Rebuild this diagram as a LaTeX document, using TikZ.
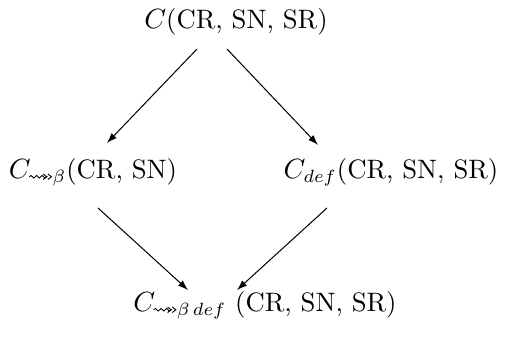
\documentclass[tikz,border=0pt]{standalone}
\usetikzlibrary{arrows.meta,calc,decorations.pathmorphing}
\newcommand{\sqarrow}{\mathrel{\tikz[baseline={(0pt,-2.2pt)},x=1pt,y=1pt]{\draw[line width=0.35pt,decorate,decoration={snake,amplitude=0.5pt,segment length=2.2pt,post length=2pt},-{Straight Barb[length=1.4pt,width=2.2pt]. Straight Barb[length=1.4pt,width=2.2pt]}] (0,0) -- (9,0);}}}
\tikzset{
  lbl/.style={inner sep=0pt, font=\fontsize{10.5}{12.5}\selectfont},
  arr/.style={line width=0.4pt, -{Latex[length=4pt,width=2.8pt]}}
}
\begin{document}
\begin{tikzpicture}[x=0.394pt,y=-0.394pt]
\useasboundingbox (0,0) rectangle (514,338);
\node[lbl] (top) at (236,22) {$C$(CR, SN, SR)};
\node[lbl] (left) at (93,172) {$C_{\sqarrow\beta}$(CR, SN)};
\node[lbl] (right) at (391,172) {$C_{def}$(CR, SN, SR)};
\node[lbl] (bot) at (265,305) {$C_{\sqarrow\beta\,def}$\ (CR, SN, SR)};
\draw[arr] ($(top)+(-39,27)$) -- ($(left)+(14,-29)$);
\draw[arr] ($(top)+(-9,27)$) -- ($(right)+(-73,-27)$);
\draw[arr] ($(left)+(5,36)$) -- ($(bot)+(-77,-15)$);
\draw[arr] ($(right)+(-64,36)$) -- ($(bot)+(-28,-15)$);
\end{tikzpicture}
\end{document}
